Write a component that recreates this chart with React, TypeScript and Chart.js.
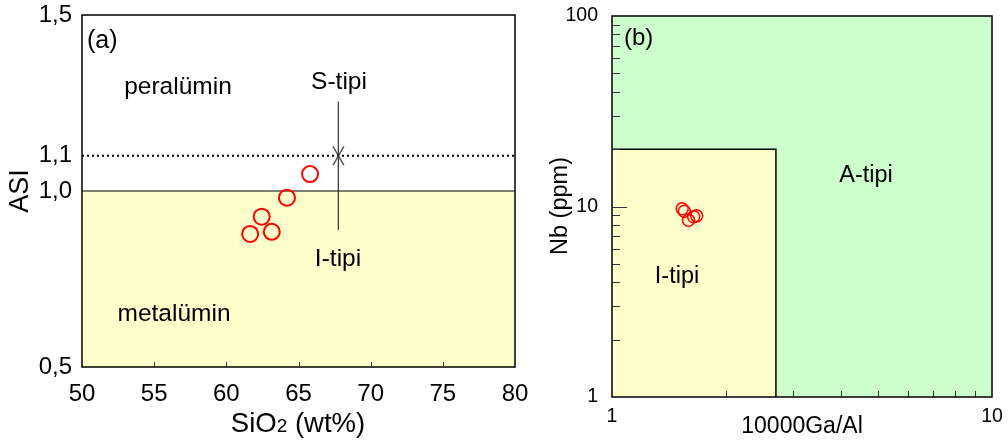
import React, { useEffect, useRef } from "react";
import { Chart, registerables } from "chart.js";
Chart.register(...registerables);

const FONT = "'Liberation Sans', Arial, sans-serif";

// ---------- Panel (a): ASI vs SiO2 ----------
const sio2Values = [65.8, 64.2, 62.45, 61.65, 63.15];
const asiValues = [1.048, 0.981, 0.927, 0.878, 0.884];
const sio2TickValues = [50, 55, 60, 65, 70, 75, 80];
const sio2InnerTicks = [55, 60, 65, 70, 75];
const asiTickValues = [0.5, 1.0, 1.1, 1.5];
const metaluminLimit = 1.0;
const sTypeLimit = 1.1;
const sTypeLineX = [67.76, 67.76];
const sTypeLineY = [1.254, 0.889];
const sTypeMarkerX = [67.76];
const sTypeMarkerY = [1.1];

// ---------- Panel (b): Nb vs 10000Ga/Al ----------
const gaAlValues = [1.53, 1.55, 1.59, 1.64, 1.67];
const nbValues = [9.72, 9.44, 8.47, 8.83, 8.93];
const gaAlTickValues = [1, 10];
const nbTickValues = [1, 10, 100];
const gaAlMinorTicks = [2, 3, 4, 5, 6, 7, 8, 9];
const nbMinorTicks = [2, 3, 4, 5, 6, 7, 8, 9, 20, 30, 40, 50, 60, 70, 80, 90];
const nbMajorInner = [10];
const gaAlLimit = 2.7;
const nbLimit = 20;

const YELLOW = "#FFFFCC";
const GREEN = "#CCFFCC";

function drawText(ctx: CanvasRenderingContext2D, text: string, x: number, y: number, size: number, align: CanvasTextAlign = "center", rot = 0) {
  ctx.save();
  ctx.translate(x, y);
  if (rot) ctx.rotate(rot);
  ctx.font = `${size}px ${FONT}`;
  ctx.fillStyle = "#000";
  ctx.textAlign = align;
  ctx.textBaseline = "middle";
  ctx.fillText(text, 0, 0);
  ctx.restore();
}

function makeXMarker(): HTMLCanvasElement {
  const c = document.createElement("canvas");
  c.width = 13;
  c.height = 21;
  const g = c.getContext("2d")!;
  g.strokeStyle = "#222";
  g.lineWidth = 1.2;
  g.beginPath();
  g.moveTo(1, 1);
  g.lineTo(12, 20);
  g.moveTo(12, 1);
  g.lineTo(1, 20);
  g.stroke();
  return c;
}

function noPad(s: any) {
  s.paddingLeft = 0;
  s.paddingRight = 0;
  s.paddingTop = 0;
  s.paddingBottom = 0;
}

const panelAPlugin = {
  id: "panelA",
  beforeDatasetsDraw(chart: any) {
    const { ctx, chartArea: a, scales } = chart;
    const x = scales.x, y = scales.y;
    ctx.save();
    const y1 = y.getPixelForValue(metaluminLimit);
    ctx.fillStyle = YELLOW;
    ctx.fillRect(a.left, y1, a.right - a.left, a.bottom - y1);
    ctx.strokeStyle = "#000";
    ctx.lineWidth = 1.2;
    ctx.beginPath();
    ctx.moveTo(a.left, y1);
    ctx.lineTo(a.right, y1);
    ctx.stroke();
    const y11 = y.getPixelForValue(sTypeLimit);
    ctx.setLineDash([2, 3]);
    ctx.lineWidth = 2;
    ctx.beginPath();
    ctx.moveTo(a.left, y11);
    ctx.lineTo(a.right, y11);
    ctx.stroke();
    ctx.setLineDash([]);
    ctx.lineWidth = 1;
    ctx.strokeStyle = "#333";
    for (const v of sio2InnerTicks) {
      const px = Math.round(x.getPixelForValue(v)) + 0.5;
      ctx.beginPath();
      ctx.moveTo(px, a.bottom);
      ctx.lineTo(px, a.bottom - 5);
      ctx.stroke();
    }
    ctx.strokeStyle = "#000";
    ctx.lineWidth = 1.5;
    ctx.strokeRect(a.left, a.top, a.right - a.left, a.bottom - a.top);
    ctx.restore();
  },
  afterDraw(chart: any) {
    const { ctx } = chart;
    drawText(ctx, "(a)", 87, 41, 25, "left");
    drawText(ctx, "peralümin", 178, 87, 24.5);
    drawText(ctx, "metalümin", 174, 314, 24.5);
    drawText(ctx, "S-tipi", 339, 82, 24.5);
    drawText(ctx, "I-tipi", 338, 259, 24.5);
    drawText(ctx, "ASI", 21, 191, 27, "center", -Math.PI / 2);
    // SiO2 (wt%) with subscript
    ctx.save();
    ctx.fillStyle = "#000";
    ctx.textBaseline = "alphabetic";
    const big = `27.5px ${FONT}`;
    const small = `19px ${FONT}`;
    ctx.font = big;
    const w1 = ctx.measureText("SiO").width;
    const w3 = ctx.measureText(" (wt%)").width;
    ctx.font = small;
    const w2 = ctx.measureText("2").width;
    const total = w1 + w2 + w3;
    let sx = 298 - total / 2;
    const base = 432;
    ctx.font = big;
    ctx.textAlign = "left";
    ctx.fillText("SiO", sx, base);
    sx += w1;
    ctx.font = small;
    ctx.fillText("2", sx, base);
    sx += w2;
    ctx.font = big;
    ctx.fillText(" (wt%)", sx, base);
    ctx.restore();
  },
};

const panelBPlugin = {
  id: "panelB",
  beforeDatasetsDraw(chart: any) {
    const { ctx, chartArea: a, scales } = chart;
    const x = scales.x, y = scales.y;
    ctx.save();
    ctx.fillStyle = GREEN;
    ctx.fillRect(a.left, a.top, a.right - a.left, a.bottom - a.top);
    const xl = x.getPixelForValue(gaAlLimit);
    const yl = y.getPixelForValue(nbLimit);
    ctx.fillStyle = YELLOW;
    ctx.fillRect(a.left, yl, xl - a.left, a.bottom - yl);
    ctx.strokeStyle = "#000";
    ctx.lineWidth = 1.5;
    ctx.beginPath();
    ctx.moveTo(a.left, yl);
    ctx.lineTo(xl, yl);
    ctx.lineTo(xl, a.bottom);
    ctx.stroke();
    ctx.strokeStyle = "#333";
    ctx.lineWidth = 1;
    for (const v of nbMinorTicks) {
      const py = Math.round(y.getPixelForValue(v)) + 0.5;
      ctx.beginPath();
      ctx.moveTo(a.left, py);
      ctx.lineTo(a.left + 8, py);
      ctx.stroke();
    }
    for (const v of nbMajorInner) {
      const py = Math.round(y.getPixelForValue(v)) + 0.5;
      ctx.beginPath();
      ctx.moveTo(a.left, py);
      ctx.lineTo(a.left + 15, py);
      ctx.stroke();
    }
    for (const v of gaAlMinorTicks) {
      const px = Math.round(x.getPixelForValue(v)) + 0.5;
      ctx.beginPath();
      ctx.moveTo(px, a.bottom);
      ctx.lineTo(px, a.bottom - 6);
      ctx.stroke();
    }
    ctx.strokeStyle = "#000";
    ctx.lineWidth = 1.5;
    ctx.strokeRect(a.left, a.top, a.right - a.left, a.bottom - a.top);
    ctx.restore();
  },
  afterDraw(chart: any) {
    const { ctx } = chart;
    drawText(ctx, "(b)", 94, 38, 24, "left");
    drawText(ctx, "A-tipi", 336, 176, 23.5);
    drawText(ctx, "I-tipi", 147, 277, 23.5);
    drawText(ctx, "Nb (ppm)", 31, 206, 23.5, "center", -Math.PI / 2);
    drawText(ctx, "10000Ga/Al", 272, 427, 23);
  },
};

function PanelA() {
  const ref = useRef<HTMLCanvasElement>(null);
  useEffect(() => {
    const chart = new Chart(ref.current!, {
      type: "scatter",
      data: {
        datasets: [
          {
            data: sTypeLineX.map((v, i) => ({ x: v, y: sTypeLineY[i] })),
            showLine: true,
            borderColor: "#333",
            borderWidth: 1.2,
            pointRadius: 0,
          },
          {
            data: sTypeMarkerX.map((v, i) => ({ x: v, y: sTypeMarkerY[i] })),
            pointStyle: makeXMarker(),
            pointRadius: 10,
          },
          {
            data: sio2Values.map((v, i) => ({ x: v, y: asiValues[i] })),
            pointStyle: "circle",
            pointRadius: 8,
            borderColor: "#FF0000",
            backgroundColor: "rgba(0,0,0,0)",
            borderWidth: 2,
          },
        ],
      },
      options: {
        responsive: false,
        animation: false,
        devicePixelRatio: 1,
        layout: { padding: { top: 15, right: 15, left: 0, bottom: 0 } },
        plugins: { legend: { display: false }, tooltip: { enabled: false } },
        events: [],
        scales: {
          x: {
            type: "linear",
            min: 50,
            max: 80,
            grid: { display: false, drawTicks: false },
            border: { display: false },
            afterBuildTicks: (s: any) => { s.ticks = sio2TickValues.map((v) => ({ value: v })); },
            afterFit: (s: any) => { s.height = 77; noPad(s); },
            ticks: { autoSkip: false, maxRotation: 0, padding: 13, color: "#000", font: { family: FONT, size: 24 }, callback: (v: any) => String(v) },
          },
          y: {
            type: "linear",
            min: 0.5,
            max: 1.5,
            grid: { display: false, drawTicks: false },
            border: { display: false },
            afterBuildTicks: (s: any) => { s.ticks = asiTickValues.map((v) => ({ value: v })); },
            afterFit: (s: any) => { s.width = 82; noPad(s); },
            ticks: { autoSkip: false, padding: 10, color: "#000", font: { family: FONT, size: 24 }, callback: (v: any) => Number(v).toFixed(1).replace(".", ",") },
          },
        },
      },
      plugins: [panelAPlugin],
    } as any);
    return () => chart.destroy();
  }, []);
  return <canvas ref={ref} width={530} height={444} style={{ position: "absolute", left: 0, top: 0 }} />;
}

function PanelB() {
  const ref = useRef<HTMLCanvasElement>(null);
  useEffect(() => {
    const chart = new Chart(ref.current!, {
      type: "scatter",
      data: {
        datasets: [
          {
            data: gaAlValues.map((v, i) => ({ x: v, y: nbValues[i] })),
            pointStyle: "circle",
            pointRadius: 6,
            borderColor: "#FF0000",
            backgroundColor: "rgba(0,0,0,0)",
            borderWidth: 1.5,
          },
        ],
      },
      options: {
        responsive: false,
        animation: false,
        devicePixelRatio: 1,
        layout: { padding: { top: 16, right: 16, left: 0, bottom: 0 } },
        plugins: { legend: { display: false }, tooltip: { enabled: false } },
        events: [],
        scales: {
          x: {
            type: "logarithmic",
            min: 1,
            max: 10,
            grid: { display: false, drawTicks: false },
            border: { display: false },
            afterBuildTicks: (s: any) => { s.ticks = gaAlTickValues.map((v) => ({ value: v })); },
            afterFit: (s: any) => { s.height = 47; noPad(s); },
            ticks: { autoSkip: false, maxRotation: 0, padding: 8, color: "#000", font: { family: FONT, size: 19.5 }, callback: (v: any) => String(v) },
          },
          y: {
            type: "logarithmic",
            min: 1,
            max: 100,
            grid: { display: false, drawTicks: false },
            border: { display: false },
            afterBuildTicks: (s: any) => { s.ticks = nbTickValues.map((v) => ({ value: v })); },
            afterFit: (s: any) => { s.width = 82; noPad(s); },
            ticks: { autoSkip: false, padding: 14, color: "#000", font: { family: FONT, size: 19.5 }, callback: (v: any) => String(v) },
          },
        },
      },
      plugins: [panelBPlugin],
    } as any);
    return () => chart.destroy();
  }, []);
  return <canvas ref={ref} width={478} height={444} style={{ position: "absolute", left: 530, top: 0 }} />;
}

export default function App() {
  return (
    <div style={{ position: "fixed", left: 0, top: 0, width: 1008, height: 444, background: "#fff", overflow: "hidden" }}>
      <PanelA />
      <PanelB />
    </div>
  );
}
